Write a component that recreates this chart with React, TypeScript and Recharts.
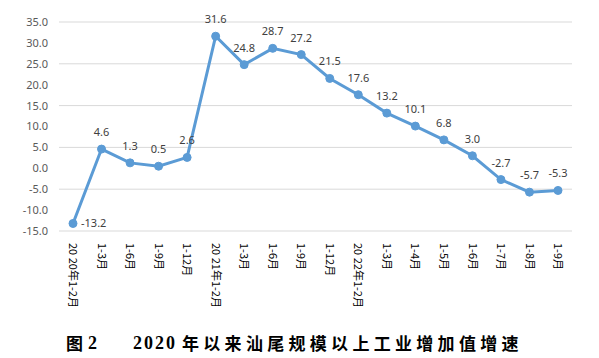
import React from 'react';
import { LineChart, Line, XAxis, YAxis, CartesianGrid, LabelList } from 'recharts';

const periods = [
  '20 20年1-2月', '1-3月', '1-6月', '1-9月', '1-12月',
  '20 21年1-2月', '1-3月', '1-6月', '1-9月', '1-12月',
  '20 22年1-2月', '1-3月', '1-4月', '1-5月', '1-6月', '1-7月', '1-8月', '1-9月',
];
const growth = [-13.2, 4.6, 1.3, 0.5, 2.6, 31.6, 24.8, 28.7, 27.2, 21.5, 17.6, 13.2, 10.1, 6.8, 3.0, -2.7, -5.7, -5.3];
const yTicks = [-15, -10, -5, 0, 5, 10, 15, 20, 25, 30, 35];

const data = periods.map((p, i) => ({ key: i, period: p, value: growth[i] }));

function PeriodTick(props: any) {
  const { x, y, payload } = props;
  const label = periods[payload.value];
  return (
    <g transform={`translate(${x},${y})`}>
      <text
        transform="rotate(90)"
        x={4}
        y={0}
        dy="0.35em"
        textAnchor="start"
        fontSize={11}
        fontFamily="'Noto Sans CJK SC', sans-serif"
        fill="#000"
        style={{ whiteSpace: 'pre' }}
      >
        {label}
      </text>
    </g>
  );
}

function ValueLabel(props: any) {
  const { x, y, value, index } = props;
  const first = index === 0;
  return (
    <text
      x={first ? x + 8 : x}
      y={first ? y + 4 : y - 13}
      textAnchor={first ? 'start' : 'middle'}
      fontSize={11}
      fontFamily="'Noto Sans', sans-serif"
      fill="#404040"
    >
      {Number(value).toFixed(1)}
    </text>
  );
}

const titleBase: React.CSSProperties = {
  position: 'absolute',
  top: 331,
  fontFamily: "'Noto Sans CJK SC', serif",
  fontWeight: 700,
  fontSize: 17,
  color: '#000',
  whiteSpace: 'pre',
  lineHeight: '24px',
};

export default function App() {
  return (
    <div style={{ position: 'absolute', left: 0, top: 0, width: 599, height: 358, background: '#fff' }}>
      <LineChart width={599} height={320} data={data} margin={{ top: 22, right: 27, bottom: 9, left: 0 }}>
        <CartesianGrid vertical={false} stroke="#d9d9d9" />
        <XAxis
          dataKey="key"
          interval={0}
          axisLine={false}
          tickLine={false}
          height={80}
          padding={{ left: 14, right: 14 }}
          tick={<PeriodTick />}
        />
        <YAxis
          domain={[-15, 35]}
          ticks={yTicks}
          width={59}
          axisLine={false}
          tickLine={false}
          tick={{ fontSize: 11, fill: '#595959', fontFamily: "'Noto Sans', sans-serif", dx: -3 }}
          tickFormatter={(v: number) => v.toFixed(1)}
        />
        <Line
          type="linear"
          dataKey="value"
          stroke="#5b9bd5"
          strokeWidth={3}
          dot={{ r: 4, fill: '#5b9bd5', stroke: '#5b9bd5', strokeWidth: 1 }}
          isAnimationActive={false}
        >
          <LabelList dataKey="value" content={<ValueLabel />} />
        </Line>
      </LineChart>
      <div style={{ ...titleBase, left: 66 }}>图</div>
      <div style={{ ...titleBase, left: 88, fontFamily: "'Liberation Serif', serif", fontSize: 18 }}>2</div>
      <div style={{ ...titleBase, left: 133, fontFamily: "'Liberation Serif', serif", fontSize: 18, letterSpacing: 2 }}>2020</div>
      <div style={{ ...titleBase, left: 182, letterSpacing: 4.3 }}>年以来汕尾规模以上工业增加值增速</div>
    </div>
  );
}
